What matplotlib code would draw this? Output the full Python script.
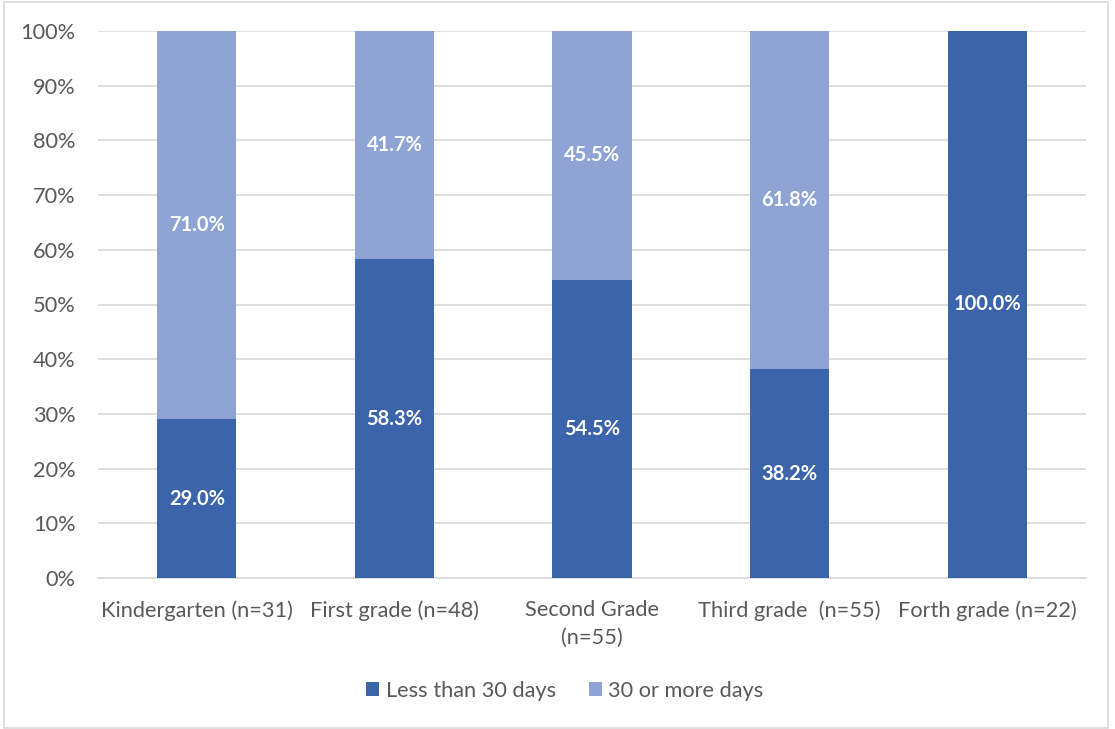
import matplotlib.pyplot as plt
from matplotlib.patches import Rectangle
from matplotlib.ticker import PercentFormatter

categories = ["Kindergarten (n=31)", "First grade (n=48)", "Second Grade\n(n=55)",
              "Third grade  (n=55)", "Forth grade (n=22)"]
less_30 = [29.0, 58.3, 54.5, 38.2, 100.0]
more_30 = [71.0, 41.7, 45.5, 61.8, 0.0]
series_names = ["Less than 30 days", "30 or more days"]

dark = "#3C64AA"
light = "#8FA4D4"
txt = "#595959"

plt.rcParams['font.family'] = ['Lato', 'DejaVu Sans']

fig = plt.figure(figsize=(11.15, 7.29), dpi=100)
ax = fig.add_axes([98/1115, 1-578/729, 988/1115, (578-31)/729])

x = list(range(len(categories)))
b1 = ax.bar(x, less_30, width=0.4, color=dark, label=series_names[0], zorder=3)
b2 = ax.bar(x, more_30, width=0.4, bottom=less_30, color=light, label=series_names[1], zorder=3)

for i, (a, b) in enumerate(zip(less_30, more_30)):
    if a > 0:
        ax.text(i, a/2, f"{a:.1f}%", ha='center', va='center', color='white',
                fontsize=14.5, fontweight='bold', zorder=4)
    if b > 0:
        ax.text(i, a + b/2, f"{b:.1f}%", ha='center', va='center', color='white',
                fontsize=14.5, fontweight='bold', zorder=4)

ax.set_xlim(-0.5, 4.5)
ax.set_ylim(0, 100)
ax.set_yticks(range(0, 101, 10))
ax.yaxis.set_major_formatter(PercentFormatter(decimals=0))
ax.set_xticks(x)
ax.set_xticklabels(categories, linespacing=1.45)
ax.grid(axis='y', color='#D9D9D9', linewidth=1.2, zorder=0)
for s in ['top', 'right', 'left']:
    ax.spines[s].set_visible(False)
ax.spines['bottom'].set_color('#D9D9D9')
ax.spines['bottom'].set_linewidth(1.2)
ax.tick_params(axis='both', length=0, labelsize=15.7, colors=txt)
ax.tick_params(axis='y', pad=16)
ax.tick_params(axis='x', pad=16)

leg = fig.legend(handles=[b1, b2], labels=series_names, loc='center',
                 bbox_to_anchor=(565/1115, 1-691/729), ncol=2, frameon=False,
                 fontsize=15.7, handlelength=0.6, handleheight=0.6, handletextpad=0.3,
                 columnspacing=1.5)
for t in leg.get_texts():
    t.set_color(txt)

fig.patches.append(Rectangle((4/1115, 1/729), 1104/1115, 726/729, transform=fig.transFigure,
                             fill=False, edgecolor='#D9D9D9', linewidth=1.2))

fig.savefig("out.png", dpi=100)
